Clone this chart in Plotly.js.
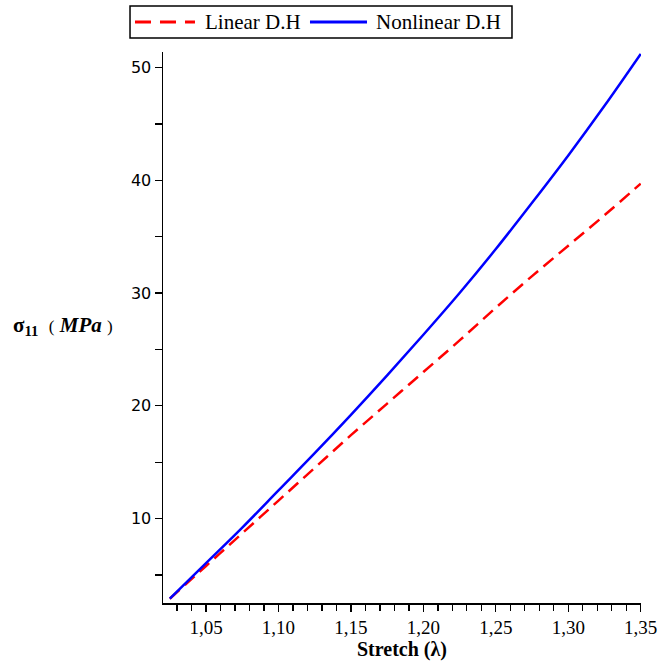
<!DOCTYPE html>
<html>
<head>
<meta charset="utf-8">
<script src="https://cdn.plot.ly/plotly-3.0.1.min.js"></script>
<style>html,body{margin:0;padding:0;background:#fff;}#chart{width:658px;height:664px;}</style>
</head>
<body>
<div id="chart"></div>
<script>
const stretch = [1.025, 1.05, 1.075, 1.10, 1.125, 1.15, 1.175, 1.20, 1.225, 1.25, 1.275, 1.30, 1.325, 1.35];
const linearDH = [2.9, 5.8, 8.7, 11.6, 14.5, 17.4, 20.2, 23.0, 25.8, 28.7, 31.5, 34.2, 36.9, 39.7];
const nonlinearDH = [2.9, 6.05, 9.2, 12.5, 15.8, 19.2, 22.7, 26.3, 30.0, 33.9, 38.0, 42.2, 46.6, 51.2];
const seriesNames = ['Linear D.H', 'Nonlinear D.H'];
const xTicks = [1.05, 1.10, 1.15, 1.20, 1.25, 1.30, 1.35];
const yTicks = [10, 20, 30, 40, 50];

const red = '#ff0000', blue = '#0000ff';
const redDash = '13px,7px';

const traces = [
  {x: stretch, y: linearDH, name: seriesNames[0], mode: 'lines', line: {color: red, width: 2.5, dash: redDash, shape: 'spline', smoothing: 1}},
  {x: stretch, y: nonlinearDH, name: seriesNames[1], mode: 'lines', line: {color: blue, width: 2.5, shape: 'spline', smoothing: 1}}
];

const serif = 'Liberation Serif, Times New Roman, serif';
// manual legend (box, sample lines, labels) in paper coordinates
const legendY = 1.0544;
const shapes = [
  {type: 'rect', xref: 'paper', yref: 'paper', x0: -0.069, x1: 0.7301, y0: 1.0254, y1: 1.0835,
   line: {color: '#000', width: 1.5}, fillcolor: '#fff'},
  {type: 'line', xref: 'paper', yref: 'paper', x0: -0.0586, x1: 0.0669, y0: legendY, y1: legendY,
   line: {color: red, width: 3, dash: '16px,9px'}},
  {type: 'line', xref: 'paper', yref: 'paper', x0: 0.3075, x1: 0.4268, y0: legendY, y1: legendY,
   line: {color: blue, width: 3}}
];

const layout = {
  width: 658, height: 664,
  margin: {l: 163, r: 17, t: 52, b: 61},
  paper_bgcolor: '#fff', plot_bgcolor: '#fff',
  separators: ', ',
  showlegend: false,
  xaxis: {
    range: [1.0203, 1.3502], showgrid: false, zeroline: false,
    showline: true, linecolor: '#000', linewidth: 1.5,
    tickmode: 'array', tickvals: xTicks, tickformat: '.2f',
    ticks: 'outside', ticklen: 7, tickwidth: 1.3, tickcolor: '#000',
    minor: {dtick: 0.01, tick0: 1.0, ticks: 'outside', ticklen: 6, tickwidth: 1.3, tickcolor: '#000', showgrid: false},
    tickfont: {family: serif, size: 19, color: '#000'},
    title: {text: '<b>Stretch (λ)</b>', font: {family: serif, size: 20, color: '#000'}, standoff: 2}
  },
  yaxis: {
    range: [2.52, 51.37], showgrid: false, zeroline: false,
    showline: true, linecolor: '#000', linewidth: 1.5,
    tickmode: 'array', tickvals: yTicks,
    ticks: 'outside', ticklen: 7, tickwidth: 1.3, tickcolor: '#000',
    minor: {dtick: 5, tick0: 0, ticks: 'outside', ticklen: 7, tickwidth: 1.3, tickcolor: '#000', showgrid: false},
    tickfont: {family: 'DejaVu Sans, sans-serif', size: 16, color: '#000'}
  },
  shapes: shapes,
  annotations: [
    {xref: 'paper', yref: 'paper', x: 0.0837, y: legendY, xanchor: 'left', yanchor: 'middle', showarrow: false,
     text: seriesNames[0], font: {family: serif, size: 21, color: '#000'}},
    {xref: 'paper', yref: 'paper', x: 0.4414, y: legendY, xanchor: 'left', yanchor: 'middle', showarrow: false,
     text: seriesNames[1], font: {family: serif, size: 21, color: '#000'}},
    {xref: 'paper', yref: 'paper', x: -0.318, y: 0.502, xanchor: 'left', yanchor: 'middle', showarrow: false,
     text: '<b>σ<sub>11</sub></b>  <span style="font-size:17px">(</span> <b><i>MPa</i></b> <span style="font-size:17px">)</span>',
     font: {family: serif, size: 21, color: '#000'}}
  ]
};

Plotly.newPlot('chart', traces, layout, {displayModeBar: false, staticPlot: true});
</script>
</body>
</html>
